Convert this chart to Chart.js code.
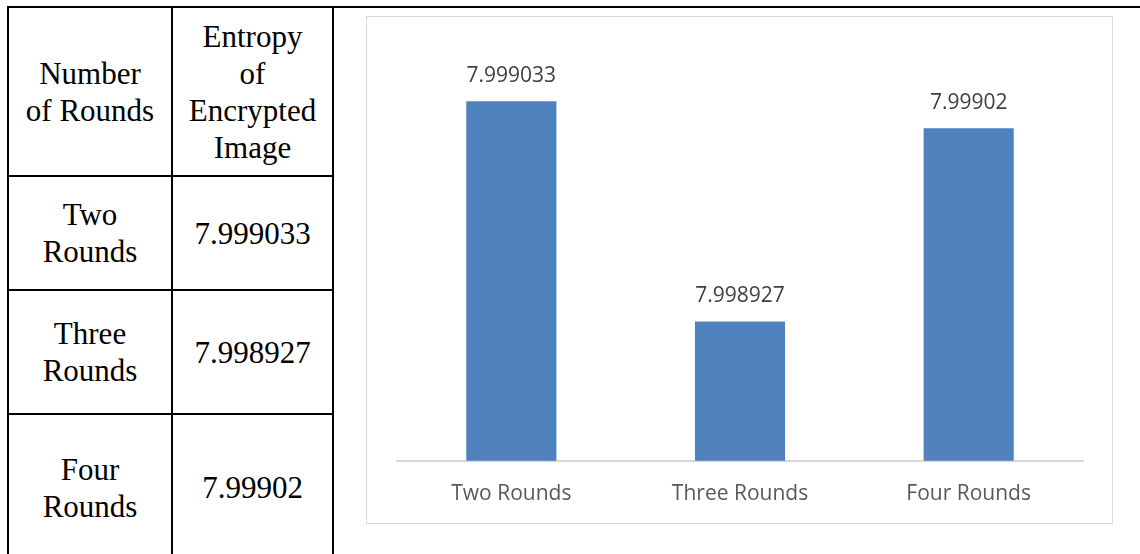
<!DOCTYPE html>
<html>
<head>
<meta charset="utf-8">
<script src="https://cdn.jsdelivr.net/npm/chart.js@4"></script>
<style>
  body { margin: 0; width: 1140px; height: 554px; overflow: hidden; background: #fff; position: relative; }
  .ln { position: absolute; background: #000; }
  .cell {
    position: absolute; display: flex; align-items: center; justify-content: center;
    text-align: center; font-family: "Liberation Serif", "Times New Roman", serif;
    font-size: 31px; line-height: 37px; color: #000;
  }
  #box { position: absolute; left: 366px; top: 16px; width: 747px; height: 508px;
    box-sizing: border-box; border: 1px solid #d9d9d9; }
  #wrap { position: absolute; left: 367px; top: 17px; width: 745px; height: 511px; }
</style>
</head>
<body>
<div id="table"></div>
<div id="box"></div>
<div id="wrap"><canvas id="entropyChart"></canvas></div>
<script>
const categories = ["Two Rounds", "Three Rounds", "Four Rounds"];
const entropy = [7.999033, 7.998927, 7.99902];
const headers = ["Number<br>of Rounds", "Entropy<br>of<br>Encrypted<br>Image"];

// table on the left
const table = document.getElementById("table");
const cols = [[9, 162], [173, 159]];
const rows = [[8, 167], [177, 112], [291, 122], [415, 145]];
const lines = [
  [7, 6, 1133, 2], [7, 6, 2, 548], [171, 6, 2, 548], [332, 6, 2, 548],
  [7, 175, 327, 2], [7, 289, 327, 2], [7, 413, 327, 2]
];
lines.forEach(l => {
  table.innerHTML += `<div class="ln" style="left:${l[0]}px;top:${l[1]}px;width:${l[2]}px;height:${l[3]}px"></div>`;
});
const cellText = [headers].concat(categories.map((c, i) => [c.replace(" ", "<br>"), String(entropy[i])]));
cellText.forEach((r, i) => {
  r.forEach((t, j) => {
    table.innerHTML += `<div class="cell" style="left:${cols[j][0]}px;top:${rows[i][0]}px;width:${cols[j][1]}px;height:${rows[i][1]}px">${t}</div>`;
  });
});

// value labels above bars
const barLabels = {
  id: "barLabels",
  afterDatasetsDraw(chart) {
    const ctx = chart.ctx;
    ctx.save();
    ctx.font = "21px 'Open Sans'";
    ctx.fillStyle = "#404040";
    ctx.textAlign = "center";
    ctx.textBaseline = "middle";
    chart.getDatasetMeta(0).data.forEach((bar, i) => {
      ctx.fillText(String(entropy[i]), bar.x, bar.y - 25);
    });
    ctx.restore();
  }
};

new Chart(document.getElementById("entropyChart"), {
  type: "bar",
  data: {
    labels: categories,
    datasets: [{
      data: entropy,
      backgroundColor: "#4f81bd",
      barPercentage: 0.394,
      categoryPercentage: 1
    }]
  },
  options: {
    responsive: true,
    maintainAspectRatio: false,
    animation: false,
    layout: { padding: { left: 30, right: 29, top: 28, bottom: 0 } },
    plugins: { legend: { display: false }, tooltip: { enabled: false } },
    scales: {
      x: {
        grid: { display: false, drawTicks: false },
        border: { display: true, color: "#d9d9d9", width: 2 },
        ticks: { color: "#595959", padding: 21, font: { family: "Open Sans", size: 21 } }
      },
      y: { display: false, min: 7.99886, max: 7.99906 }
    }
  },
  plugins: [barLabels]
});
</script>
</body>
</html>
